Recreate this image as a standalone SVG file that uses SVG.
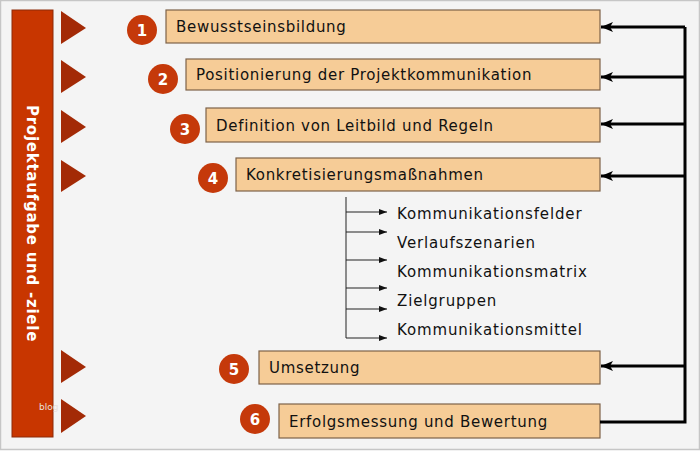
<svg xmlns="http://www.w3.org/2000/svg" width="700" height="451" viewBox="0 0 700 451">
<defs>
<style>
.box{fill:#f6cc97;stroke:#7d6249;stroke-width:1.2}
.lbl{font-family:"DejaVu Sans",Verdana,sans-serif;font-size:15px;letter-spacing:0.7px;fill:#111}
.sub{font-family:"DejaVu Sans",Verdana,sans-serif;font-size:15px;letter-spacing:0.85px;fill:#111}
.num{fill:#c5390a}
.numt{font-family:"DejaVu Sans",Verdana,sans-serif;font-size:15px;font-weight:bold;fill:#fff;text-anchor:middle}
.tri{fill:#a32a06}
.fb{stroke:#000;stroke-width:3;fill:none}
.sl{stroke:#222;stroke-width:1;fill:none}
</style>
<marker id="ah" markerWidth="12" markerHeight="10" refX="12" refY="5" orient="auto" markerUnits="userSpaceOnUse">
<path d="M0,0 L12,5 L0,10 L3,5 Z" fill="#000"/>
</marker>
<marker id="sa" markerWidth="8" markerHeight="6" refX="8" refY="3" orient="auto" markerUnits="userSpaceOnUse">
<path d="M0,0 L8,3 L0,6 Z" fill="#111"/>
</marker>
</defs>
<rect x="0.5" y="0.5" width="699" height="449" fill="#f4f4f4" stroke="#c6c6c6" stroke-width="1.5"/>
<g id="bar">
<rect x="12" y="10" width="41" height="427" fill="#c83600" stroke="#8c2a08" stroke-width="1"/>
<text x="0" y="0" transform="translate(26.5,223.5) rotate(90)" font-family="DejaVu Sans,Verdana,sans-serif" font-size="15px" font-weight="bold" letter-spacing="0.75px" fill="#fff" text-anchor="middle">Projektaufgabe und -ziele</text>
<text x="39" y="410" font-family="DejaVu Sans,sans-serif" font-size="9px" fill="#e8e0dc">blog</text>
</g>
<g id="triangles">
<polygon class="tri" points="61,11 86,28 61,44"/>
<polygon class="tri" points="61,60 86,77 61,93"/>
<polygon class="tri" points="61,110 86,127 61,143"/>
<polygon class="tri" points="61,160 86,176 61,192"/>
<polygon class="tri" points="61,350 86,367 61,383"/>
<polygon class="tri" points="61,399 86,416 61,433"/>
</g>
<g id="n1">
<rect class="box" x="166" y="10" width="434" height="33"/>
<text class="lbl" x="176" y="32">Bewusstseinsbildung</text>
<circle class="num" cx="142" cy="30" r="15"/><text class="numt" x="142" y="35.5">1</text>
</g>
<g id="n2">
<rect class="box" x="186" y="59" width="414" height="31"/>
<text class="lbl" x="196" y="80">Positionierung der Projektkommunikation</text>
<circle class="num" cx="163" cy="79" r="15"/><text class="numt" x="163" y="84.5">2</text>
</g>
<g id="n3">
<rect class="box" x="206" y="108" width="394" height="34"/>
<text class="lbl" x="216" y="131">Definition von Leitbild und Regeln</text>
<circle class="num" cx="185" cy="129" r="15"/><text class="numt" x="185" y="134.5">3</text>
</g>
<g id="n4">
<rect class="box" x="236" y="158" width="364" height="33"/>
<text class="lbl" x="246" y="180">Konkretisierungsmaßnahmen</text>
<circle class="num" cx="213" cy="178" r="15"/><text class="numt" x="213" y="183.5">4</text>
</g>
<g id="n5">
<rect class="box" x="259" y="351" width="341" height="33"/>
<text class="lbl" x="269" y="373">Umsetzung</text>
<circle class="num" cx="234" cy="369" r="15"/><text class="numt" x="234" y="374.5">5</text>
</g>
<g id="n6">
<rect class="box" x="279" y="404" width="321" height="34"/>
<text class="lbl" x="289" y="427">Erfolgsmessung und Bewertung</text>
<circle class="num" cx="255" cy="419" r="15"/><text class="numt" x="255" y="424.5">6</text>
</g>
<g id="subitems">
<text class="sub" x="397" y="219">Kommunikationsfelder</text>
<text class="sub" x="397" y="248">Verlaufszenarien</text>
<text class="sub" x="397" y="277">Kommunikationsmatrix</text>
<text class="sub" x="397" y="306">Zielgruppen</text>
<text class="sub" x="397" y="335">Kommunikationsmittel</text>
</g>
<g id="connectors">
<path class="fb" d="M600,422 H685 V27"/>
<line class="fb" x1="685" y1="27" x2="601" y2="27" marker-end="url(#ah)"/>
<line class="fb" x1="685" y1="77" x2="601" y2="77" marker-end="url(#ah)"/>
<line class="fb" x1="685" y1="124" x2="601" y2="124" marker-end="url(#ah)"/>
<line class="fb" x1="685" y1="176" x2="601" y2="176" marker-end="url(#ah)"/>
<line class="fb" x1="685" y1="366" x2="601" y2="366" marker-end="url(#ah)"/>
<line class="sl" x1="346" y1="197" x2="346" y2="338"/>
<line class="sl" x1="346" y1="212" x2="387" y2="212" marker-end="url(#sa)"/>
<line class="sl" x1="346" y1="232" x2="387" y2="232" marker-end="url(#sa)"/>
<line class="sl" x1="346" y1="260" x2="387" y2="260" marker-end="url(#sa)"/>
<line class="sl" x1="346" y1="288" x2="387" y2="288" marker-end="url(#sa)"/>
<line class="sl" x1="346" y1="309" x2="387" y2="309" marker-end="url(#sa)"/>
<line class="sl" x1="346" y1="338" x2="387" y2="338" marker-end="url(#sa)"/>
</g>
</svg>
